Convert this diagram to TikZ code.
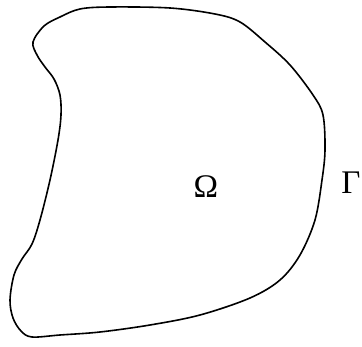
\documentclass[tikz,border=0pt]{standalone}
\usepackage{fontspec}
\setmainfont{Liberation Serif}
\usetikzlibrary{positioning}

\begin{document}
\begin{tikzpicture}[x=1pt,y=-1pt]
        \useasboundingbox (0,0) rectangle (362,347);
        % Domini (vora tancada)
        \draw[line width=1.6pt] plot[smooth cycle, tension=0.55] coordinates {
            (33,42) (37,55) (45,67) (54,79) (60,95) (61,115) (58,140)
            (50,180) (40,220) (32,244) (22,259) (14,275) (10,300)
            (13,318) (21,331) (32,337) (60,335) (100,332) (150,325)
            (200,315) (250,298) (280,280) (300,255) (315,220)
            (322,180) (325,150) (323,115) (313,95) (290,65) (265,42)
            (240,22) (215,14) (170,8) (110,7) (80,9) (60,17) (44,26)
        };
        % Etiquetes
        \node[font=\fontsize{33}{36}\selectfont] (omega) at (206,187) {Ω};
        \node[font=\fontsize{33}{36}\selectfont, inner sep=0pt] (gamma) at (351,183) {Γ};
    \end{tikzpicture}
\end{document}
